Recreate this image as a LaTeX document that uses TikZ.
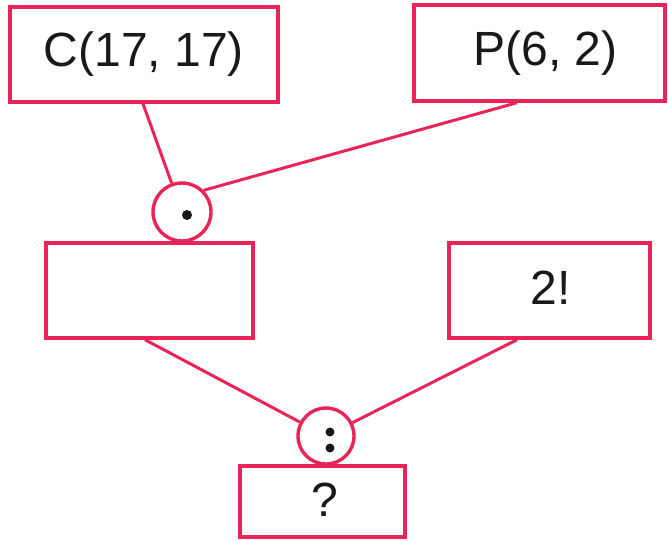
\documentclass[tikz,border=0pt]{standalone}
\usepackage{fontspec}
\setmainfont{Liberation Sans}
\definecolor{pinkred}{RGB}{232,36,88}
\definecolor{inkc}{RGB}{25,25,25}
\begin{document}
\begin{tikzpicture}[x=1pt,y=-1pt,
  box/.style={draw=pinkred,line width=3.4pt,fill=white,inner sep=0pt,
    font=\fontsize{48}{58}\selectfont,text=inkc},
  opcirc/.style={draw=pinkred,line width=3.4pt,fill=white,circle,inner sep=0pt},
  link/.style={draw=pinkred,line width=3pt}]
\fill[white] (0,0) rectangle (668,540);
\useasboundingbox (0,0) rectangle (668,540);
\node[box,minimum width=268pt,minimum height=95pt] (C) at (144,54.5) {C(17, 17)};
\node[box,minimum width=251pt,minimum height=96pt] (P) at (539.5,53) {\hspace*{12pt}P(6, 2)};
\node[box,minimum width=207pt,minimum height=95pt] (E) at (149.5,290.5) {};
\node[box,minimum width=201pt,minimum height=95pt] (F) at (549.5,290.5) {};
\node[font=\fontsize{48}{58}\selectfont,text=inkc,inner sep=0pt] (Ft) at (551,288) {2!};
\node[box,minimum width=165pt,minimum height=71pt] (Q) at (322.5,501.5) {};
\node[font=\fontsize{48}{58}\selectfont,text=inkc,inner sep=0pt] (Qt) at (325,500) {?};
\node[opcirc,minimum size=58pt] (c1) at (182,212) {};
\node[opcirc,minimum size=56pt] (c2) at (326,436) {};
\draw[link] ([xshift=-1pt]C.south) -- (c1);
\draw[link] ([xshift=-22.5pt]P.south) -- (c1.45);
\draw[link] ([xshift=-4.5pt]E.south) -- (c2);
\draw[link] ([xshift=-32.5pt]F.south) -- (c2);
\fill[inkc] ([shift={(5,3)}]c1.center) circle (5);
\fill[inkc] ([shift={(4,-4)}]c2.center) circle (4.5);
\fill[inkc] ([shift={(4,12)}]c2.center) circle (4.5);
\end{tikzpicture}
\end{document}
